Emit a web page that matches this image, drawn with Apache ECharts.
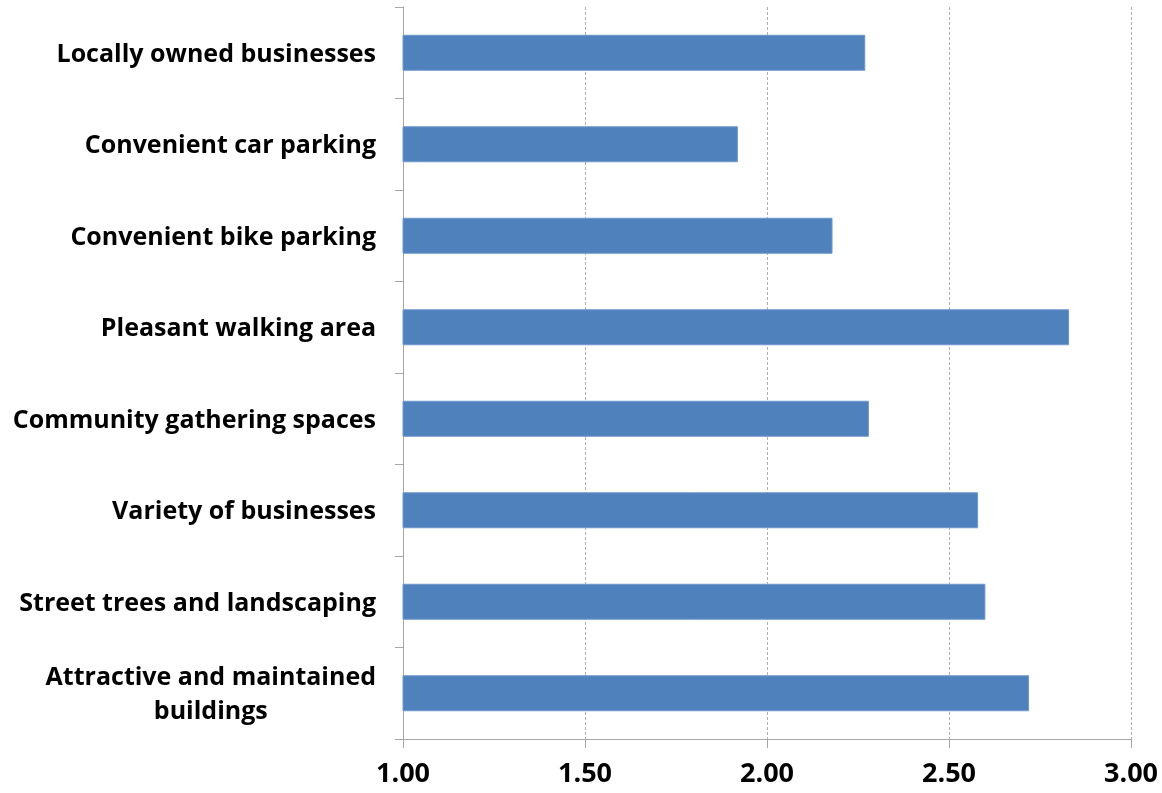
<!DOCTYPE html>
<html>
<head>
<meta charset="utf-8">
<script src="https://cdn.jsdelivr.net/npm/echarts@6/dist/echarts.min.js"></script>
<style>html,body{margin:0;padding:0;background:#fff;}#c{width:1162px;height:793px;}</style>
</head>
<body>
<div id="c"></div>
<script>
const categories = [
  "Locally owned businesses",
  "Convenient car parking",
  "Convenient bike parking",
  "Pleasant walking area",
  "Community gathering spaces",
  "Variety of businesses",
  "Street trees and landscaping",
  "Attractive and maintained\nbuildings"
];
const values = [2.27, 1.92, 2.18, 2.83, 2.28, 2.58, 2.60, 2.72];
const xMin = 1.0, xMax = 3.0, xStep = 0.5;

const chart = echarts.init(document.getElementById('c'), null, {renderer: 'canvas'});
const labelFont = '"Open Sans", sans-serif';
chart.setOption({
  animation: false,
  backgroundColor: '#ffffff',
  grid: {left: 403, right: 31, top: 7, bottom: 54, containLabel: false},
  xAxis: {
    type: 'value', min: xMin, max: xMax, interval: xStep,
    axisLine: {show: true, lineStyle: {color: '#a6a6a6', width: 1}},
    axisTick: {show: true, length: 9, lineStyle: {color: '#a6a6a6'}},
    splitLine: {show: true, lineStyle: {color: '#b0b0b0', type: [3, 2], width: 1}},
    axisLabel: {
      margin: 22, color: '#000', fontFamily: labelFont, fontWeight: 'bold', fontSize: 27,
      formatter: v => v.toFixed(2)
    }
  },
  yAxis: {
    type: 'category', data: categories, inverse: true,
    axisLine: {show: true, lineStyle: {color: '#a6a6a6', width: 1}},
    axisTick: {show: true, length: 8, lineStyle: {color: '#a6a6a6'}},
    axisLabel: {
      margin: 27, color: '#000', fontFamily: labelFont, fontWeight: 'bold', fontSize: 25,
      lineHeight: 34, padding: [4, 0, 0, 0],
      formatter: function (v) {
        if (v.indexOf('\n') >= 0) {
          return v.split('\n').map(s => '{c|' + s + '}').join('\n');
        }
        return v;
      },
      rich: {
        c: {align: 'center', fontFamily: labelFont, fontWeight: 'bold', fontSize: 25, color: '#000', lineHeight: 34}
      }
    }
  },
  series: [{
    type: 'bar',
    data: values,
    barWidth: 36,
    itemStyle: {color: '#4f81bd', borderColor: '#6f98cc', borderWidth: 1}
  }]
});
</script>
</body>
</html>
